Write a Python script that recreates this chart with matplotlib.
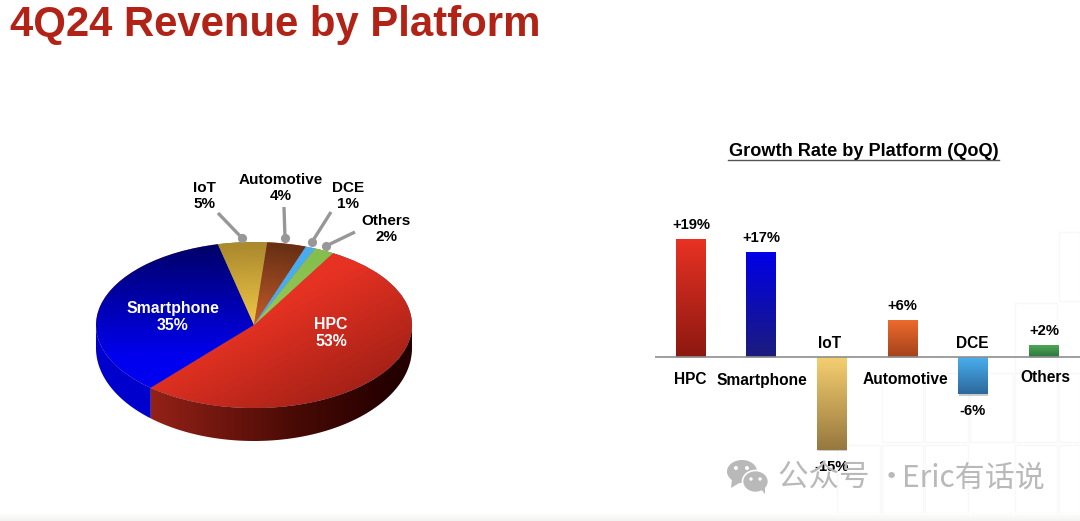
import numpy as np
import matplotlib
matplotlib.use("Agg")
import matplotlib.pyplot as plt
import matplotlib.patheffects as pe
from matplotlib.patches import Polygon, Ellipse, Rectangle

# Revenue share by platform (%), in clockwise order from the HPC slice
share_platforms = ["HPC", "Smartphone", "IoT", "Automotive", "DCE", "Others"]
share_values = [53, 35, 5, 4, 1, 2]

# Quarter-over-quarter growth by platform (%)
growth_platforms = ["HPC", "Smartphone", "IoT", "Automotive", "DCE", "Others"]
growth_values = [19, 17, -15, 6, -6, 2]
growth_labels = ["+19%", "+17%", "-15%", "+6%", "-6%", "+2%"]

# Gradient ends for each bar: colour at the baseline side and at the far end
bar_colors = {
    "HPC": ((140, 24, 16), (232, 50, 36)),
    "Smartphone": ((28, 28, 125), (0, 0, 232)),
    "IoT": ((246, 208, 112), (150, 120, 62)),
    "Automotive": ((165, 65, 28), (238, 108, 44)),
    "DCE": ((74, 176, 240), (44, 104, 156)),
    "Others": ((46, 118, 62), (82, 170, 90)),
}

W, H = 1080, 521
FONT = "Liberation Sans"
plt.rcParams["font.family"] = [FONT, "DejaVu Sans"]

fig = plt.figure(figsize=(W / 100, H / 100), dpi=100, facecolor="white")


def axes_px(x0, y0, x1, y1, **kw):
    """Axes placed by pixel box, with y measured from the top of the figure."""
    return fig.add_axes([x0 / W, 1 - y1 / H, (x1 - x0) / W, (y1 - y0) / H], **kw)


def ramp(c0, c1, t):
    t = np.clip(t, 0, 1)[..., None]
    return (np.array(c0) * (1 - t) + np.array(c1) * t) / 255


# Backdrop: pale slide tiles and the soft grey band along the lower edge
bg = axes_px(0, 0, W, H, zorder=0)
bg.set_xlim(0, W)
bg.set_ylim(H, 0)
bg.axis("off")
tiles = [(1059, 232, 1080, 301), (1015, 303, 1057, 372), (882, 373, 923, 442),
         (925, 373, 968, 442), (970, 373, 1013, 442), (1015, 373, 1057, 442),
         (1059, 373, 1080, 442), (837, 445, 880, 513), (882, 445, 923, 513),
         (925, 445, 968, 513), (1015, 445, 1057, 513), (1059, 445, 1080, 513),
         (748, 517, 790, 521), (792, 517, 835, 521), (837, 517, 880, 521),
         (882, 517, 923, 521), (925, 517, 968, 521)]
for x0, y0, x1, y1 in tiles:
    bg.add_patch(Rectangle((x0, y0), x1 - x0, y1 - y0, fill=False,
                           edgecolor="#f8f8f8", linewidth=1))
haze = ramp((255, 255, 255), (243, 243, 241), np.linspace(0, 1, 24)[:, None][:, [0] * 2])
bg.imshow(haze, extent=(0, W, H, H - 8), aspect="auto", zorder=1)
bg.set_xlim(0, W)
bg.set_ylim(H, 0)

# Pie: a unit circle squashed by the axes box into the tilted top face
CX, CY, RX, RY = 254, 325, 158, 83
XL, YT, YB = 1.2, 1.2, 1.6
ax = axes_px(CX - XL * RX, CY - YT * RY, CX + XL * RX, CY + YB * RY, zorder=1)
wedges, _ = ax.pie(share_values, startangle=60, counterclock=False, radius=1.0,
                   wedgeprops={"linewidth": 0})
ax.set_aspect("auto")
ax.set_xlim(-XL, XL)
ax.set_ylim(-YB, YT)
ax.axis("off")

grid_x, grid_y = np.meshgrid(np.linspace(-1.05, 1.05, 500), np.linspace(1.05, -1.05, 500))
radius = np.hypot(grid_x, grid_y)
top_fill = {
    "HPC": ramp((230, 50, 35), (155, 30, 20), (grid_x - grid_y + 0.1) / 1.8),
    "Smartphone": ramp((0, 0, 105), (0, 0, 240), (0.95 - grid_y) / 1.35),
    "IoT": ramp((240, 200, 72), (172, 138, 46), radius / 0.95),
    "Automotive": ramp((196, 92, 42), (105, 48, 20), radius / 0.95),
    "DCE": ramp((72, 172, 238), (72, 172, 238), radius),
    "Others": ramp((150, 200, 84), (132, 190, 78), radius),
}
for name, wedge in zip(share_platforms, wedges):
    img = ax.imshow(top_fill[name], extent=(-1.05, 1.05, -1.05, 1.05),
                    aspect="auto", zorder=3)
    img.set_clip_path(wedge)

# Side wall, running between the top rim and a deeper, wider lower rim
DROP, LOWER_RY = 23 / RY, 93 / RY
wall_x, wall_y = np.meshgrid(np.linspace(-1.02, 1.02, 500), np.linspace(0.1, -1.5, 200))
wall_fill = {
    "HPC": ramp((150, 34, 24), (72, 10, 5), (wall_x + 0.68) / 0.95),
    "Smartphone": ramp((0, 0, 205), (0, 0, 205), wall_x),
}
wall_fill["HPC"] = np.where(
    (wall_x > 0.27)[..., None], ramp((72, 10, 5), (36, 0, 0), (wall_x - 0.27) / 0.6), wall_fill["HPC"])
theta_end = 60.0
for name, value in zip(share_platforms, share_values):
    theta_start, theta_end = theta_end, theta_end - 3.6 * value
    lo, hi = max(theta_end, -180), min(theta_start, 0)
    if hi <= lo:
        # Slices above the rim, or the part wrapping back past -180 degrees
        lo, hi = max(theta_end + 360, 180), min(theta_start + 360, 360)
        if hi <= lo:
            continue
    arc = np.radians(np.linspace(lo, hi, 120))
    upper = np.column_stack([np.cos(arc), np.sin(arc)])
    lower = np.column_stack([np.cos(arc), -DROP + LOWER_RY * np.sin(arc)])
    outline = Polygon(np.vstack([upper, lower[::-1]]), closed=True, transform=ax.transData,
                      facecolor="none", edgecolor="none")
    ax.add_patch(outline)
    img = ax.imshow(wall_fill[name], extent=(-1.02, 1.02, -1.5, 0.1), aspect="auto", zorder=2)
    img.set_clip_path(outline)
ax.set_xlim(-XL, XL)
ax.set_ylim(-YB, YT)

# Growth bars on a shared baseline
BASE_Y, PX_PER_PCT = 357, 6.2
BAR_X0, BAR_STEP = 690.5, 70.6
BAR_TOP, BAR_BOTTOM = 200, 490
bx = axes_px(655, BAR_TOP, W, BAR_BOTTOM, zorder=1)
bx.set_xlim((655 - BAR_X0) / BAR_STEP, (W - BAR_X0) / BAR_STEP)
bx.set_ylim((BASE_Y - BAR_BOTTOM) / PX_PER_PCT, (BASE_Y - BAR_TOP) / PX_PER_PCT)
bx.axis("off")
bars = bx.bar(range(len(growth_values)), growth_values, width=29.5 / BAR_STEP,
              color="#cccccc", linewidth=0, zorder=2)
for bar, name, value in zip(bars, growth_platforms, growth_values):
    c_base, c_end = bar_colors[name]
    bar.set_facecolor(np.array(c_end) / 255)
    bar.set_path_effects([pe.SimplePatchShadow(offset=(0.4, -1.0), alpha=0.3, shadow_rgbFace="#555555"),
                          pe.Normal()])
    strip = ramp(c_base, c_end, np.linspace(0, 1, 128))[:, None, :]
    x0 = bar.get_x()
    img = bx.imshow(strip, extent=(x0, x0 + bar.get_width(), 0, value), origin="lower",
                    aspect="auto", zorder=3)
    img.set_clip_path(bar)
bx.set_xlim((655 - BAR_X0) / BAR_STEP, (W - BAR_X0) / BAR_STEP)
bx.set_ylim((BASE_Y - BAR_BOTTOM) / PX_PER_PCT, (BASE_Y - BAR_TOP) / PX_PER_PCT)
bx.axhline(0, color="#8e8e8e", linewidth=1.2, zorder=4)

# Text and callouts, positioned in figure pixels
px = axes_px(0, 0, W, H, zorder=5)
px.set_xlim(0, W)
px.set_ylim(H, 0)
px.axis("off")
px.patch.set_alpha(0)


def label(x, y, s, size, color="black", **kw):
    px.text(x, y, s, fontsize=size, color=color, fontweight="bold", ha="center", va="center",
            linespacing=1.22, **kw)


px.text(10.5, 25, "4Q24 Revenue by Platform", fontsize=30.2, fontweight="bold", color="#b22317",
        ha="left", va="center")

share = dict(zip(share_platforms, share_values))
label(173, 317, f"Smartphone\n{share['Smartphone']}%", 11.4, "white")
label(331, 333, f"HPC\n{share['HPC']}%", 11.4, "white")
label(204, 196, f"IoT\n{share['IoT']}%", 11)
label(281, 188, f"Automotive\n{share['Automotive']}%", 11)
label(348, 196, f"DCE\n{share['DCE']}%", 11)
label(386, 229, f"Others\n{share['Others']}%", 11)

callouts = [((218, 213), (242, 238)), ((284, 207), (285, 238)),
            ((331, 212), (312, 242)), ((355, 232), (326, 246))]
for (x0, y0), (x1, y1) in callouts:
    px.plot([x0, x1], [y0, y1], color="#979797", linewidth=2.4, solid_capstyle="butt")
    px.plot([x1], [y1], "o", color="#979797", markersize=6.6, markeredgewidth=0)

px.text(864, 151.5, "Growth Rate by Platform (QoQ)", fontsize=13.1, fontweight="bold",
        ha="center", va="center")
px.plot([728, 999], [160, 160], color="#555555", linewidth=1)

name_pos = [(690.5, 379), (762, 380), (830, 343), (905, 380), (972, 343), (1045, 378)]
value_pos = [(691, 225), (761, 238), (832, 467), (902, 306), (973, 411), (1044, 331)]
for name, text, (nx, ny), (vx, vy) in zip(growth_platforms, growth_labels, name_pos, value_pos):
    label(nx, ny, name, 11.2)
    label(vx, vy, text, 10.6)

# Channel watermark with its chat-bubble badge
WM = "#b9b9b9"
px.add_patch(Ellipse((742, 471.5), 30, 23, facecolor=WM, edgecolor="none"))
px.add_patch(Polygon([(732, 479), (731, 488), (741, 482)], closed=True, facecolor=WM, edgecolor="none"))
px.add_patch(Ellipse((755.5, 481.5), 26, 22, facecolor=WM, edgecolor="white", linewidth=1.2))
px.add_patch(Polygon([(760, 488), (765, 494), (765, 484)], closed=True, facecolor=WM, edgecolor="none"))
for cx, cy, r in [(736, 468, 2), (747, 468, 2), (751, 479, 1.7), (760, 479, 1.7)]:
    px.add_patch(Ellipse((cx, cy), 2 * r, 2 * r, facecolor="white", edgecolor="none"))
WM_FONT = ["Noto Sans CJK SC", "DejaVu Sans"]
px.text(778, 478, "公众号 ·", fontsize=22, color=WM, ha="left", va="center", family=WM_FONT)
px.text(1045, 478, "Eric有话说", fontsize=21.6, color=WM, ha="right", va="center", family=WM_FONT)

fig.savefig("out.png", dpi=100)
